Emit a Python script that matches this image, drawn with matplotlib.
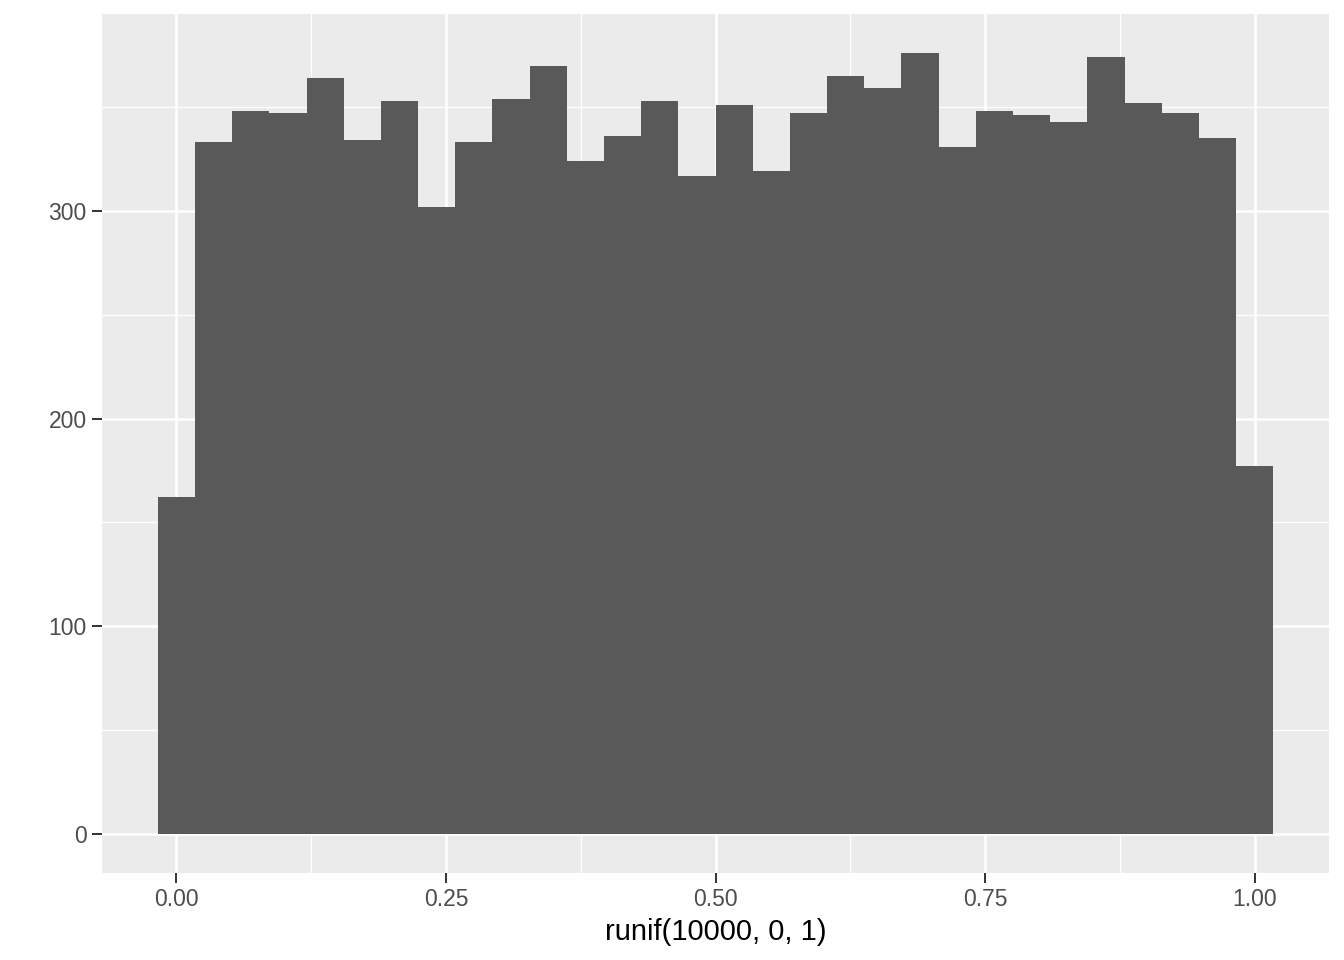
import numpy as np
import matplotlib
matplotlib.use("Agg")
import matplotlib.pyplot as plt

counts = [162, 333, 348, 347, 364, 334, 353, 302, 333, 354,
          370, 324, 336, 353, 317, 351, 319, 347, 365, 359,
          376, 331, 348, 346, 343, 374, 352, 347, 335, 177]
x_ticks = [0.0, 0.25, 0.5, 0.75, 1.0]
x_labels = ["0.00", "0.25", "0.50", "0.75", "1.00"]
y_ticks = [0, 100, 200, 300]
x_title = "runif(10000, 0, 1)"

plt.rcParams['font.family'] = ['Liberation Sans', 'DejaVu Sans']

n = len(counts)
width = 1.0 / (n - 1)
centers = np.arange(n) * width

fig = plt.figure(figsize=(13.44, 9.6), dpi=100)
ax = fig.add_axes([102/1344, 1 - 873/960, (1329-102)/1344, (873-14)/960])
ax.set_facecolor("#EBEBEB")

xmin, xmax = centers[0] - width/2, centers[-1] + width/2
xr = xmax - xmin
ax.set_xlim(xmin - 0.05*xr, xmax + 0.05*xr)
ymax = max(counts)
ax.set_ylim(-0.05*ymax, ymax*1.05)

for yv in [50, 150, 250, 350]:
    ax.axhline(yv, color="white", lw=0.9, zorder=0)
for xv in [0.125, 0.375, 0.625, 0.875]:
    ax.axvline(xv, color="white", lw=0.9, zorder=0)
for yv in y_ticks:
    ax.axhline(yv, color="white", lw=1.8, zorder=0)
for xv in x_ticks:
    ax.axvline(xv, color="white", lw=1.8, zorder=0)

ax.bar(centers, counts, width=width, color="#595959", linewidth=0, zorder=2)

ax.set_xticks(x_ticks)
ax.set_xticklabels(x_labels)
ax.set_yticks(y_ticks)
ax.tick_params(axis='both', colors="#333333", length=7, width=1.4,
               labelsize=16.5, labelcolor="#4D4D4D", pad=4)
for s in ax.spines.values():
    s.set_visible(False)
ax.set_xlabel(x_title, fontsize=21, color="black", labelpad=5)

fig.savefig("out.png", dpi=100)
